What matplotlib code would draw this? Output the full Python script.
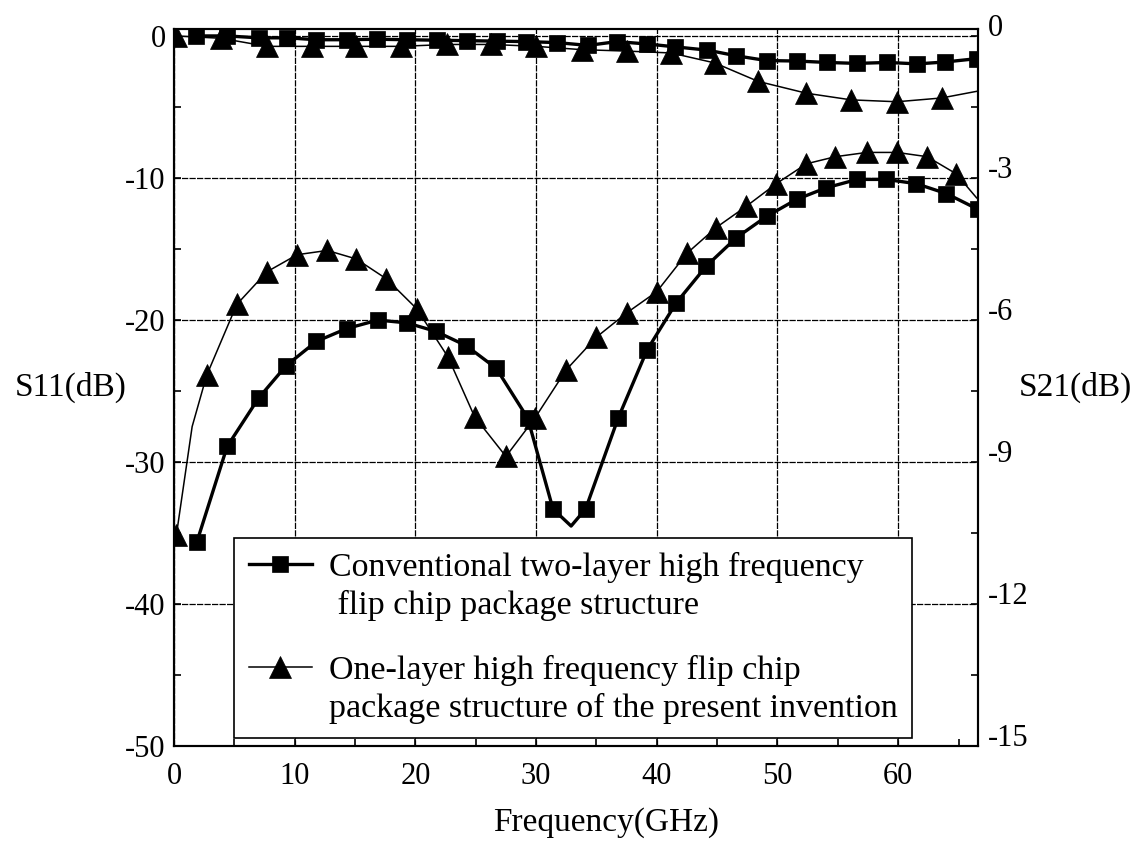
import numpy as np
import matplotlib
matplotlib.use("Agg")
import matplotlib.pyplot as plt
from matplotlib.ticker import MultipleLocator
from matplotlib.legend_handler import HandlerLine2D

plt.rcParams['font.family'] = ['Liberation Serif', 'DejaVu Serif']
plt.rcParams['axes.unicode_minus'] = False

# S11 (left axis), conventional two-layer structure (squares, thick line)
f_s11_conv = [1.9, 4.4, 7.0, 9.3, 11.8, 14.3, 16.9, 19.3, 21.7, 24.2, 26.7, 29.3, 31.4, 32.9,
              34.1, 36.8, 39.2, 41.6, 44.1, 46.6, 49.1, 51.6, 54.0, 56.6, 59.0, 61.5, 64.0, 66.6]
s11_conv = [-35.6, -28.9, -25.5, -23.2, -21.5, -20.6, -20.0, -20.2, -20.8, -21.8, -23.4, -26.9, -33.3, -34.5,
            -33.3, -26.9, -22.1, -18.8, -16.2, -14.2, -12.7, -11.5, -10.7, -10.1, -10.1, -10.4, -11.1, -12.2]
mk_s11_conv = [i for i in range(len(f_s11_conv)) if i != 13]

# S11 (left axis), one-layer structure (triangles, thin line)
f_s11_one = [0.2, 1.5, 2.7, 5.2, 7.7, 10.2, 12.7, 15.1, 17.6, 20.1, 22.7, 24.9, 27.5, 29.9, 32.5,
             35.0, 37.5, 40.0, 42.5, 44.9, 47.4, 49.9, 52.4, 54.8, 57.4, 59.9, 62.4, 64.8, 66.5]
s11_one = [-35.1, -27.5, -23.9, -18.9, -16.6, -15.4, -15.1, -15.7, -17.1, -19.2, -22.6, -26.8, -29.6, -26.9, -23.5,
           -21.2, -19.5, -18.0, -15.3, -13.5, -12.0, -10.4, -9.0, -8.5, -8.2, -8.2, -8.5, -9.7, -11.4]
mk_s11_one = [i for i in range(len(f_s11_one)) if i not in (1, len(f_s11_one) - 1)]

# S21 (right axis), conventional (squares)
f_s21_conv = [1.8, 4.4, 7.0, 9.4, 11.8, 14.3, 16.8, 19.3, 21.8, 24.3, 26.8, 29.2, 31.7, 34.3,
              36.7, 39.2, 41.5, 44.2, 46.6, 49.1, 51.6, 54.1, 56.6, 59.1, 61.6, 63.9, 66.5]
s21_conv = [0.0, 0.0, -0.04, -0.04, -0.08, -0.08, -0.07, -0.08, -0.09, -0.10, -0.11, -0.12, -0.14, -0.20,
            -0.12, -0.17, -0.23, -0.30, -0.42, -0.52, -0.53, -0.56, -0.58, -0.56, -0.59, -0.55, -0.48]

# S21 (right axis), one-layer (triangles)
f_s21_one = [0.2, 3.9, 7.7, 11.4, 15.1, 18.8, 22.6, 26.3, 30.0, 33.8, 37.5, 41.2, 44.8,
             48.4, 52.4, 56.1, 59.9, 63.6, 66.5]
s21_one = [0.0, -0.05, -0.22, -0.22, -0.22, -0.22, -0.18, -0.18, -0.22, -0.29, -0.32, -0.36, -0.57,
           -0.96, -1.21, -1.35, -1.39, -1.31, -1.17]
mk_s21_one = list(range(len(f_s21_one) - 1))

labels = ["Conventional two-layer high frequency\n flip chip package structure",
          "One-layer high frequency flip chip\npackage structure of the present invention"]

fig = plt.figure(figsize=(11.45, 8.48), dpi=100)
ax = fig.add_axes([0.152, 0.120, 0.702, 0.846])
ax2 = ax.twinx()

sq = dict(marker='s', markersize=11.5, color='black', markeredgewidth=0.5)
tri = dict(marker='^', markersize=15.5, color='black', markeredgewidth=0.5)

l1, = ax.plot(f_s11_conv, s11_conv, lw=2.4, markevery=mk_s11_conv, **sq)
l2, = ax.plot(f_s11_one, s11_one, lw=1.1, markevery=mk_s11_one, **tri)
ax2.plot(f_s21_conv, s21_conv, lw=2.4, **sq)
ax2.plot(f_s21_one, s21_one, lw=1.1, markevery=mk_s21_one, **tri)

ax.set_xlim(0, 66.6)
ax.set_ylim(-50, 0.5)
ax2.set_ylim(-15, 0.15)

ax.xaxis.set_major_locator(MultipleLocator(10))
ax.xaxis.set_minor_locator(MultipleLocator(5))
ax.yaxis.set_major_locator(MultipleLocator(10))
ax.yaxis.set_minor_locator(MultipleLocator(5))
ax2.yaxis.set_major_locator(MultipleLocator(3))
ax2.yaxis.set_minor_locator(MultipleLocator(1.5))

ax.grid(True, which='major', color='black', linestyle=(0, (5, 1)), linewidth=0.9)
ax.tick_params(axis='x', which='both', direction='in', length=5, width=1.2, labelsize=22, pad=11)
ax.tick_params(axis='y', which='both', direction='in', length=5, width=1.2, labelsize=22, pad=6)
ax2.tick_params(axis='y', which='both', direction='in', length=5, width=1.2, labelsize=22, pad=7)
for t in ax2.get_yticklabels():
    t.set_verticalalignment('baseline')
for a in (ax, ax2):
    for s in a.spines.values():
        s.set_linewidth(1.5)

ax.set_xlabel("Frequency(GHz)", fontsize=24)
ax.xaxis.set_label_coords(0.537, -0.106)
ax.xaxis.label.set_va('center')
ax.set_ylabel("S11(dB)", fontsize=24, rotation=0, va='center', ha='center')
ax.yaxis.set_label_coords(-0.129, 0.50)
ax2.set_ylabel("S21(dB)", fontsize=24, rotation=0, va='center', ha='center')
ax2.yaxis.set_label_coords(1.121, 0.50)


class HandlerUp(HandlerLine2D):
    # keep the legend symbol level with the first line of a two-line label
    def create_artists(self, legend, orig_handle, xdescent, ydescent, width, height, fontsize, trans):
        arts = super().create_artists(legend, orig_handle, xdescent, ydescent, width, height, fontsize, trans)
        for a in arts:
            a.set_ydata(np.asarray(a.get_ydata()) + 0.65 * fontsize)
        return arts


leg = ax2.legend([l1, l2], labels, loc='lower left', bbox_to_anchor=(0.075, 0.011),
                 borderaxespad=0, fontsize=24.5, frameon=True, fancybox=False, edgecolor='black',
                 handlelength=1.85, handletextpad=0.5, borderpad=0.42, labelspacing=1.0,
                 handler_map={l1: HandlerUp(), l2: HandlerUp()})
leg.get_frame().set_linewidth(1.2)
leg.get_frame().set_alpha(1)
for t in leg.get_texts():
    t.set_linespacing(1.28)

fig.savefig("out.png", dpi=100)
